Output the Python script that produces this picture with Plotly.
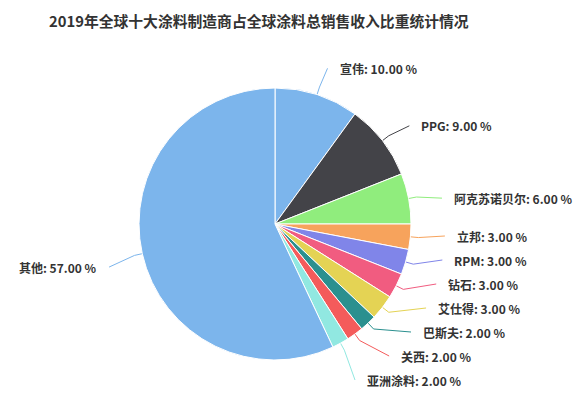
import math
import plotly.graph_objects as go

title = "2019年全球十大涂料制造商占全球涂料总销售收入比重统计情况"
companies = ["宣伟", "PPG", "阿克苏诺贝尔", "立邦", "RPM", "钻石", "艾仕得", "巴斯夫", "关西", "亚洲涂料", "其他"]
shares = [10, 9, 6, 3, 3, 3, 3, 2, 2, 2, 57]
colors = ["#7cb5ec", "#434348", "#90ed7d", "#f7a35c", "#8085e9", "#f15c80",
          "#e4d354", "#2b908f", "#f45b5b", "#91e8e1", "#7cb5ec"]

W, H = 588, 394
CX, CY, R = 275, 224, 136
RL = 170          # label circle radius
SPACING = 24
TEXT_DY = 6       # text centre sits slightly below anchor
Y_MAX = H - 14 - TEXT_DY
FONT = "Noto Sans CJK SC, Noto Sans, sans-serif"

fig = go.Figure()

fig.add_trace(go.Pie(
    labels=companies, values=shares, sort=False, direction="clockwise", rotation=0,
    marker=dict(colors=colors, line=dict(color="white", width=1)),
    textinfo="none", hoverinfo="label+percent", showlegend=False,
    domain=dict(x=[(CX - R) / W, (CX + R) / W], y=[1 - (CY + R) / H, 1 - (CY - R) / H]),
))

total = sum(shares)
cum = 0
items = []
for name, v, c in zip(companies, shares, colors):
    mid = (cum + v / 2) / total * 2 * math.pi
    cum += v
    side = 1 if math.sin(mid) >= 0 else -1
    y0 = CY - RL * math.cos(mid)
    items.append(dict(name=name, v=v, c=c, mid=mid, side=side, y=y0, natural=y0))


def spread(group):
    if not group:
        return
    group.sort(key=lambda d: d["natural"])
    clusters = [[g] for g in group]
    changed = True
    while changed:
        changed = False
        for cl in clusters:
            m = sum(d["natural"] for d in cl) / len(cl)
            for i, d in enumerate(cl):
                d["y"] = m + (i - (len(cl) - 1) / 2) * SPACING
        new = [clusters[0]]
        for cl in clusters[1:]:
            if cl[0]["y"] - new[-1][-1]["y"] < SPACING:
                new[-1] = new[-1] + cl
                changed = True
            else:
                new.append(cl)
        clusters = new
    for cl in clusters:
        m = sum(d["natural"] for d in cl) / len(cl)
        for i, d in enumerate(cl):
            d["y"] = m + (i - (len(cl) - 1) / 2) * SPACING
    limit = Y_MAX
    for d in reversed(group):
        d["y"] = min(d["y"], limit)
        limit = d["y"] - SPACING


spread([d for d in items if d["side"] == 1])
spread([d for d in items if d["side"] == -1])

fig.update_xaxes(range=[0, W], visible=False, domain=[0, 1], fixedrange=True)
fig.update_yaxes(range=[H, 0], visible=False, domain=[0, 1], fixedrange=True)

annotations = []
for it in items:
    dy = it["y"] - CY
    ax = CX + it["side"] * math.sqrt(max(RL ** 2 - dy ** 2, 0))
    ty = it["y"] + TEXT_DY
    ex = CX + R * math.sin(it["mid"])
    ey = CY - R * math.cos(it["mid"])
    bx = CX + (R + 8) * math.sin(it["mid"])
    by = CY - (R + 8) * math.cos(it["mid"])
    fig.add_trace(go.Scatter(x=[ex, bx, ax], y=[ey, by, ty], mode="lines",
                             line=dict(color=it["c"], width=1, shape="linear"),
                             hoverinfo="skip", showlegend=False))
    annotations.append(dict(
        x=(ax + it["side"] * 10) / W, y=1 - ty / H, xref="paper", yref="paper",
        text=f"<b>{it['name']}: {it['v']:.2f} %</b>", showarrow=False,
        xanchor="left" if it["side"] == 1 else "right", yanchor="middle",
        font=dict(family=FONT, size=12, color="#333333")))

annotations.append(dict(x=259 / W, y=1 - 20 / H, xref="paper", yref="paper",
                        text=f"<b>{title}</b>", showarrow=False, xanchor="center",
                        yanchor="middle", font=dict(family=FONT, size=14.8, color="#333333")))

fig.update_layout(width=W, height=H, margin=dict(l=0, r=0, t=0, b=0),
                  paper_bgcolor="white", plot_bgcolor="white",
                  annotations=annotations)
fig.write_html("out.html")
